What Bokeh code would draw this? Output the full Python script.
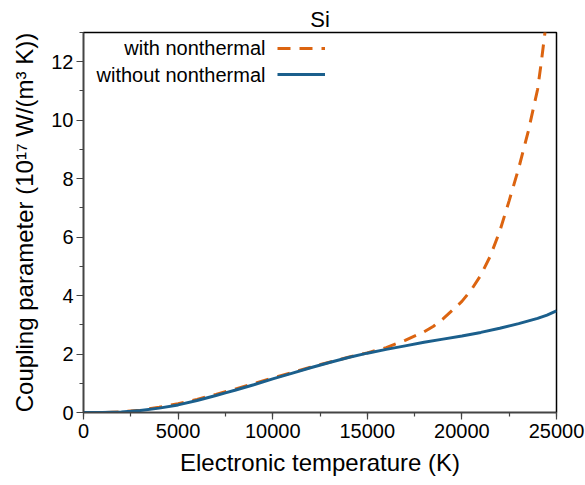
from bokeh.plotting import figure
from bokeh.models import Range1d, SingleIntervalTicker, Legend, LegendItem, Label
from bokeh.embed import file_html
from bokeh.resources import INLINE

# Blue: without nonthermal
t_without = [0, 1000, 2000, 2500, 3000, 4000, 5000, 6000, 7000, 7500, 8000, 9000, 10000,
             11000, 12000, 13000, 14000, 15000, 16000, 17000, 18000, 19000, 20000,
             21000, 22000, 23000, 24000, 24500, 25000]
g_without = [0.0, 0.0, 0.02, 0.04, 0.07, 0.15, 0.26, 0.41, 0.58, 0.67, 0.76, 0.95, 1.15,
             1.34, 1.53, 1.71, 1.88, 2.03, 2.16, 2.28, 2.4, 2.51, 2.62,
             2.74, 2.88, 3.04, 3.22, 3.33, 3.48]

# Orange: with nonthermal
t_with = [0, 1000, 2000, 3000, 4000, 5000, 6000, 7000, 8000, 9000, 10000, 11000, 12000,
          13000, 14000, 15000, 16000, 17000, 18000, 18500, 19000, 19500, 20000, 20500,
          21000, 21500, 22000, 22500, 23000, 23500, 24000, 24200, 24400, 24500]
g_with = [0.0, 0.0, 0.02, 0.08, 0.18, 0.3, 0.45, 0.62, 0.8, 0.99, 1.18, 1.36, 1.55,
          1.72, 1.89, 2.04, 2.22, 2.47, 2.76, 2.95, 3.2, 3.5, 3.8, 4.2,
          4.7, 5.35, 6.2, 7.25, 8.35, 9.6, 11.05, 12.0, 13.05, 13.6]

x_ticks_interval = 5000
y_ticks_interval = 2
title_text = "Si"
x_label = "Electronic temperature (K)"
y_label = "Coupling parameter (10\u00b9\u2077 W/(m\u00b3 K))"
label_with = "with nonthermal"
label_without = "without nonthermal"

FONT = "Liberation Sans"
ORANGE = "#DC6410"
BLUE = "#1B5F8C"

p = figure(width=585, height=485, output_backend="svg", toolbar_location=None,
           x_range=Range1d(0, 25000), y_range=Range1d(0, 13),
           min_border_left=83, min_border_right=29, min_border_top=32, min_border_bottom=73)

p.title.text = title_text
p.title.text_font = FONT
p.title.text_font_size = "22px"
p.title.text_font_style = "normal"
p.title.text_color = "black"
p.title.align = "center"
p.title.offset = -18
p.title.standoff = 2

p.xgrid.visible = False
p.ygrid.visible = False
p.outline_line_color = "black"
p.outline_line_width = 1.5
p.background_fill_color = "white"
p.border_fill_color = "white"

p.xaxis.ticker = SingleIntervalTicker(interval=x_ticks_interval, num_minor_ticks=2)
p.yaxis.ticker = SingleIntervalTicker(interval=y_ticks_interval, num_minor_ticks=2)

for ax in (p.xaxis[0], p.yaxis[0]):
    ax.axis_line_color = "#444444"
    ax.axis_line_width = 1.5
    ax.major_tick_line_color = "#444444"
    ax.minor_tick_line_color = "#444444"
    ax.major_tick_line_width = 1.2
    ax.minor_tick_line_width = 1.2
    ax.major_tick_out = 7
    ax.major_tick_in = 0
    ax.minor_tick_out = 4
    ax.minor_tick_in = 0
    ax.major_label_text_font = FONT
    ax.major_label_text_font_size = "20px"
    ax.major_label_text_color = "black"
    ax.axis_label_text_font = FONT
    ax.axis_label_text_font_size = "24px"
    ax.axis_label_text_font_style = "normal"
    ax.axis_label_text_color = "black"

p.xaxis.axis_label = x_label
p.yaxis.axis_label = y_label
p.xaxis.major_label_standoff = 4
p.yaxis.major_label_standoff = 3
p.xaxis.axis_label_standoff = 8
p.yaxis.axis_label_standoff = 10

r_with = p.line(t_with, g_with, line_color=ORANGE, line_width=3, line_dash="13 9")
r_without = p.line(t_without, g_without, line_color=BLUE, line_width=3)

legend = Legend(items=[LegendItem(label=" ", renderers=[r_with]),
                       LegendItem(label=" ", renderers=[r_without])],
                location=(194, 328), padding=0, margin=0, spacing=6,
                glyph_width=48, glyph_height=20, label_width=0, label_standoff=0,
                border_line_alpha=0, background_fill_alpha=0, label_text_font_size="1px")
p.add_layout(legend, "center")

for txt, sy in ((label_with, 412 - 47.7), (label_without, 412 - 74)):
    p.add_layout(Label(x=265 - 83, y=sy, x_units="screen", y_units="screen",
                       text=txt, text_align="right", text_baseline="middle",
                       text_font=FONT, text_font_size="20px", text_color="black"))

open("out.html", "w").write(file_html(p, INLINE))
